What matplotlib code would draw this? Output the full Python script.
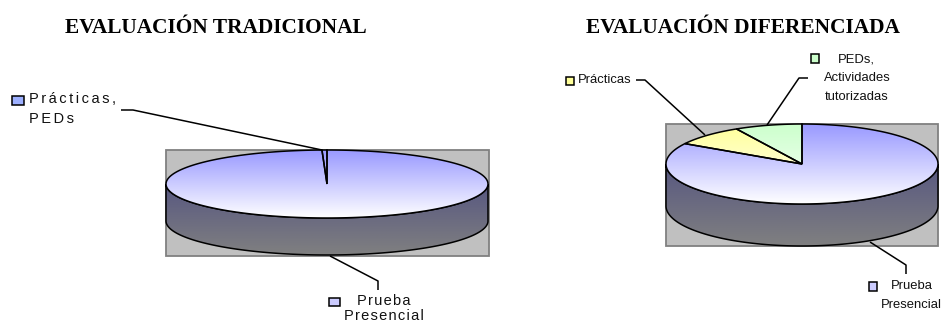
import numpy as np
import matplotlib
matplotlib.use('Agg')
import matplotlib.pyplot as plt
from matplotlib.colors import LinearSegmentedColormap
from matplotlib.patches import Polygon, Rectangle

# Shares in percent, clockwise from 12 o'clock
trad_labels = ['Prueba Presencial', 'Prácticas, PEDs']
trad_values = [99.5, 0.5]
dif_labels = ['Prueba Presencial', 'Prácticas', 'PEDs, Actividades tutorizadas']
dif_values = [83.5, 8.5, 8.0]

slice_colors = {'blue': '#9999ff', 'yellow': '#ffff99', 'green': '#ccffcc'}
HAIR = '\u200a'


def spaced(s, n=2):
    """Wide letter spacing with hair spaces (the left chart is tracked out)"""
    return (HAIR * n).join(s)


def arc(cx, cy, a, b, t0, t1, n=200):
    t = np.radians(np.linspace(t0, t1, n))
    return np.column_stack([cx + a * np.sin(t), cy - b * np.cos(t)])


def gradient_fill(ax, patch, c0, c1, extent):
    cmap = LinearSegmentedColormap.from_list('g', [c0, c1])
    grad = np.linspace(0, 1, 256).reshape(-1, 1)
    im = ax.imshow(grad, cmap=cmap, aspect='auto', extent=extent, zorder=patch.get_zorder())
    im.set_clip_path(patch)


def draw_pie(ax, values, colors, rect, cx, cy, a, b, depth):
    x0, y0, x1, y1 = rect
    ax.add_patch(Rectangle((x0, y0), x1 - x0, y1 - y0, fc='#c0c0c0', ec='#808080', lw=1.3, zorder=1))

    # Side wall (front half of the ellipse, pushed down)
    front = arc(cx, cy, a, b, 90, 270)
    side = np.vstack([front, (front + [0, depth])[::-1]])
    wall = Polygon(side, closed=True, fc='none', ec='none', zorder=2)
    ax.add_patch(wall)
    gradient_fill(ax, wall, '#575780', '#808080', (cx - a, cx + a, cy + b + depth, cy))
    ax.add_patch(Polygon(side, closed=True, fc='none', ec='black', lw=1.1, zorder=3))

    # Top slices
    start = 0.0
    for val, col in zip(values, colors):
        end = start + val / sum(values) * 360
        pts = np.vstack([[cx, cy], arc(cx, cy, a, b, start, end)])
        wedge = Polygon(pts, closed=True, fc='none', ec='none', zorder=4)
        ax.add_patch(wedge)
        gradient_fill(ax, wedge, col, '#ffffff', (cx - a, cx + a, cy + b, cy - b))
        ax.add_patch(Polygon(pts, closed=True, fc='none', ec='black', lw=1.1, zorder=5))
        start = end


def leader(ax, xs, ys):
    ax.plot(xs, ys, color='black', lw=1.1, zorder=6, solid_capstyle='butt')


def key(ax, x, y, w, h, col):
    ax.add_patch(Rectangle((x, y), w, h, fc=col, ec='black', lw=1.1, zorder=6))


fig = plt.figure(figsize=(9.42, 3.24), dpi=100)
ax = fig.add_axes([0, 0, 1, 1])

draw_pie(ax, trad_values, [slice_colors['blue'], slice_colors['blue']],
         (166, 150, 489, 256), 327, 184, 161, 34, 37)
draw_pie(ax, dif_values, [slice_colors['blue'], slice_colors['yellow'], slice_colors['green']],
         (666, 124, 938, 246), 802, 164, 136, 40, 42)

ax.set_xlim(0, 942)
ax.set_ylim(324, 0)
ax.axis('off')

# Titles
title_font = dict(family='Liberation Serif', fontweight='bold', fontsize=15.4, ha='center', va='baseline')
ax.text(216, 33, 'EVALUACIÓN TRADICIONAL', **title_font)
ax.text(743, 33, 'EVALUACIÓN DIFERENCIADA', **title_font)

# Left chart labels
sans = ['Liberation Sans', 'DejaVu Sans']
wide = dict(family=sans, fontsize=10.5, va='center', color='#111111')
key(ax, 12, 96, 12, 9, '#9db0ff')
ax.text(29, 99, spaced('Prácticas,'), ha='left', **wide)
ax.text(29, 119, spaced('PEDs'), ha='left', **wide)
leader(ax, [121, 133, 322], [110, 110, 150])

key(ax, 329, 298, 11, 8, '#ccccff')
ax.text(384, 301, spaced('Prueba', 1), ha='center', **wide)
ax.text(384, 316, spaced('Presencial', 1), ha='center', **wide)
leader(ax, [330, 378, 378], [256, 281, 290])

# Right chart labels
tight = dict(family=sans, fontsize=9.4, va='center', color='#111111')
key(ax, 566, 77, 8, 8, '#ffff99')
ax.text(578, 80, 'Prácticas', ha='left', **tight)
leader(ax, [636, 645, 705], [80, 80, 135])

key(ax, 811, 54, 8, 9, '#ccffcc')
ax.text(856, 59, 'PEDs,', ha='center', **tight)
ax.text(857, 78, 'Actividades', ha='center', **tight)
ax.text(857, 97, 'tutorizadas', ha='center', **tight)
leader(ax, [808, 799, 767], [78, 78, 125])

key(ax, 869, 282, 8, 9, '#ccccff')
ax.text(912, 286, 'Prueba', ha='center', **tight)
ax.text(911, 305, 'Presencial', ha='center', **tight)
leader(ax, [870, 906, 906], [242, 265, 274])

plt.savefig('out.png', dpi=100)
